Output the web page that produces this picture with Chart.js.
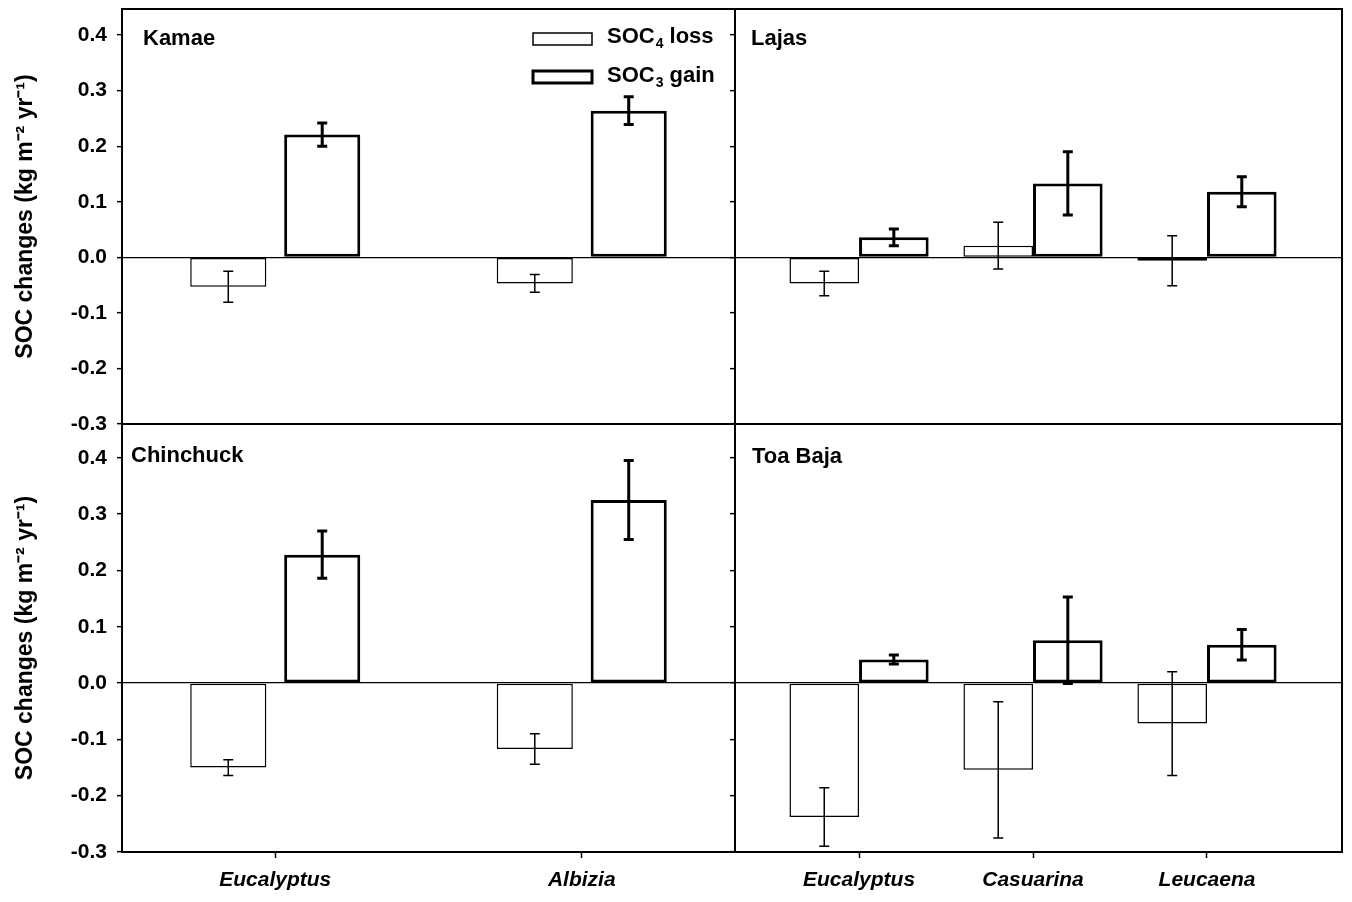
<!DOCTYPE html>
<html>
<head>
<meta charset="utf-8">
<script src="https://cdn.jsdelivr.net/npm/chart.js@4.4.1/dist/chart.umd.min.js"></script>
<style>
  html, body { margin: 0; padding: 0; background: #fff; }
  #wrap { position: relative; width: 1352px; height: 902px; overflow: hidden; }
  #wrap canvas { position: absolute; }
</style>
</head>
<body>
<div id="wrap">
  <canvas id="kamae" width="740" height="430" style="left:0;top:0"></canvas>
  <canvas id="lajas" width="627" height="430" style="left:725px;top:0"></canvas>
  <canvas id="chinchuck" width="740" height="487" style="left:0;top:415px"></canvas>
  <canvas id="toabaja" width="627" height="487" style="left:725px;top:415px"></canvas>
</div>
<script>
const FONT = '"Liberation Sans", Arial, Helvetica, sans-serif';
Chart.defaults.font.family = FONT;
Chart.defaults.color = '#000';

// species on the x axis
const leftSpecies = ['Eucalyptus', 'Albizia'];
const rightSpecies = ['Eucalyptus', 'Casuarina', 'Leucaena'];
const yTickValues = [-0.3, -0.2, -0.1, 0, 0.1, 0.2, 0.3, 0.4];
const yTitle = 'SOC changes (kg m\u207B\u00B2 yr\u207B\u00B9)';

// Kamae
const kamaeLoss = [-0.053, -0.047];
const kamaeLossSe = [0.028, 0.016];
const kamaeGain = [0.221, 0.264];
const kamaeGainSe = [0.021, 0.025];

// Lajas
const lajasLoss = [-0.047, 0.021, -0.006];
const lajasLossSe = [0.022, 0.042, 0.045];
const lajasGain = [0.036, 0.133, 0.118];
const lajasGainSe = [0.015, 0.057, 0.027];

// Chinchuck
const chinLoss = [-0.150, -0.117];
const chinLossSe = [0.014, 0.027];
const chinGain = [0.228, 0.325];
const chinGainSe = [0.042, 0.070];

// Toa Baja
const toaLoss = [-0.238, -0.154, -0.072];
const toaLossSe = [0.052, 0.121, 0.092];
const toaGain = [0.042, 0.076, 0.068];
const toaGainSe = [0.008, 0.077, 0.027];

// legend entries: SOC<sub> + rest
const legendItems = [
    { sub: '4', rest: ' loss', lw: 1.5, boxTop: 33, baseline: 43 },
    { sub: '3', rest: ' gain', lw: 3, boxTop: 71, baseline: 82 },
];

function drawLegend(ctx) {
    legendItems.forEach((it) => {
        ctx.lineWidth = it.lw;
        ctx.strokeRect(533, it.boxTop, 59, 12);
        let x = 607;
        ctx.font = `bold 22px ${FONT}`;
        ctx.fillText('SOC', x, it.baseline);
        x += ctx.measureText('SOC').width;
        ctx.font = `bold 14px ${FONT}`;
        ctx.fillText(it.sub, x + 1, it.baseline + 5);
        x += ctx.measureText(it.sub).width + 1;
        ctx.font = `bold 22px ${FONT}`;
        ctx.fillText(it.rest, x, it.baseline);
    });
}

function makePanel(id, o) {
    const cats = o.cats;
    const toPts = (arr) => arr.map((y, i) => ({ x: i, y }));
    const errSets = [
        { values: o.loss, err: o.lossSe, lw: 1.5 },
        { values: o.gain, err: o.gainSe, lw: 3 },
    ];

    const errorBars = {
        id: 'errorBars',
        afterDatasetsDraw(chart) {
            const { ctx } = chart;
            const ys = chart.scales.y;
            ctx.save();
            ctx.strokeStyle = '#000';
            errSets.forEach((set, di) => {
                chart.getDatasetMeta(di).data.forEach((bar, i) => {
                    const top = ys.getPixelForValue(set.values[i] + set.err[i]);
                    const bot = ys.getPixelForValue(set.values[i] - set.err[i]);
                    ctx.lineWidth = set.lw;
                    ctx.beginPath();
                    ctx.moveTo(bar.x, top);
                    ctx.lineTo(bar.x, bot);
                    ctx.moveTo(bar.x - 5, top);
                    ctx.lineTo(bar.x + 5, top);
                    ctx.moveTo(bar.x - 5, bot);
                    ctx.lineTo(bar.x + 5, bot);
                    ctx.stroke();
                });
            });
            ctx.restore();
        },
    };

    const decor = {
        id: 'decor',
        afterDraw(chart) {
            const { ctx, chartArea: a } = chart;
            ctx.save();
            ctx.strokeStyle = '#000';
            ctx.fillStyle = '#000';
            ctx.lineWidth = 2;
            ctx.strokeRect(a.left, a.top, a.right - a.left, a.bottom - a.top);
            ctx.font = `bold 22px ${FONT}`;
            ctx.textBaseline = 'alphabetic';
            ctx.fillText(o.name, a.left + o.nameDx, a.top + o.nameDy);
            if (o.legend) drawLegend(ctx);
            ctx.restore();
        },
    };

    return new Chart(document.getElementById(id), {
        type: 'bar',
        data: {
            datasets: [
                {
                    label: 'SOC4 loss',
                    data: toPts(o.loss),
                    backgroundColor: '#fff',
                    borderColor: '#000',
                    borderWidth: 1.5,
                    borderSkipped: false,
                },
                {
                    label: 'SOC3 gain',
                    data: toPts(o.gain),
                    backgroundColor: '#fff',
                    borderColor: '#000',
                    borderWidth: 3,
                    borderSkipped: false,
                },
            ],
        },
        options: {
            responsive: false,
            animation: false,
            devicePixelRatio: 1,
            categoryPercentage: o.catPct,
            barPercentage: o.barPct,
            layout: { padding: o.pad },
            plugins: { legend: { display: false }, tooltip: { enabled: false } },
            scales: {
                x: {
                    type: 'linear',
                    display: o.showX,
                    min: o.xMin,
                    max: o.xMax,
                    offset: false,
                    afterBuildTicks: (s) => {
                        s.ticks = cats.map((_, i) => ({ value: i }));
                    },
                    afterFit: (s) => {
                        if (o.showX) s.height = 40;
                        s.paddingLeft = 0;
                        s.paddingRight = 0;
                    },
                    border: { display: false },
                    grid: {
                        drawOnChartArea: false,
                        offset: false,
                        tickLength: 6,
                        tickColor: '#000',
                        tickWidth: 1.5,
                    },
                    ticks: {
                        autoSkip: false,
                        maxRotation: 0,
                        padding: 10,
                        font: { size: 21, weight: 'bold', style: 'italic' },
                        callback: (v) => cats[v],
                    },
                },
                y: {
                    min: -0.3,
                    max: o.yMax,
                    afterBuildTicks: (s) => {
                        s.ticks = yTickValues.map((v) => ({ value: v }));
                    },
                    afterFit: (s) => {
                        s.width = o.yWidth;
                        s.paddingTop = 0;
                        s.paddingBottom = 0;
                    },
                    border: { display: false },
                    grid: {
                        color: (c) => (c.tick && c.tick.value === 0 ? '#000' : 'rgba(0,0,0,0)'),
                        lineWidth: 1.3,
                        tickColor: '#000',
                        tickLength: 5,
                        tickWidth: 1.5,
                    },
                    ticks: {
                        display: o.showY,
                        padding: 10,
                        font: { size: 21, weight: 'bold' },
                        callback: (v) => v.toFixed(1),
                    },
                    title: {
                        display: o.showY,
                        text: yTitle,
                        font: { size: 23, weight: 'bold' },
                        padding: { top: 12, bottom: 0 },
                    },
                },
            },
        },
        plugins: [errorBars, decor],
    });
}

const leftBars = { catPct: 0.613, barPct: 0.81, xMin: -0.5, xMax: 1.5, yWidth: 122, showY: true };
const rightBars = { catPct: 0.8, barPct: 1.0, xMin: -0.713, xMax: 2.776, yWidth: 10, showY: false };

makePanel('kamae', {
    ...leftBars, cats: leftSpecies, name: 'Kamae', nameDx: 21, nameDy: 36, legend: true,
    loss: kamaeLoss, lossSe: kamaeLossSe, gain: kamaeGain, gainSe: kamaeGainSe,
    yMax: 0.447, showX: false, pad: { top: 9, right: 5, bottom: 6, left: 0 },
});
makePanel('lajas', {
    ...rightBars, cats: rightSpecies, name: 'Lajas', nameDx: 16, nameDy: 36,
    loss: lajasLoss, lossSe: lajasLossSe, gain: lajasGain, gainSe: lajasGainSe,
    yMax: 0.447, showX: false, pad: { top: 9, right: 10, bottom: 6, left: 0 },
});
makePanel('chinchuck', {
    ...leftBars, cats: leftSpecies, name: 'Chinchuck', nameDx: 9, nameDy: 38,
    loss: chinLoss, lossSe: chinLossSe, gain: chinGain, gainSe: chinGainSe,
    yMax: 0.46, showX: true, pad: { top: 9, right: 5, bottom: 10, left: 0 },
});
makePanel('toabaja', {
    ...rightBars, cats: rightSpecies, name: 'Toa Baja', nameDx: 17, nameDy: 39,
    loss: toaLoss, lossSe: toaLossSe, gain: toaGain, gainSe: toaGainSe,
    yMax: 0.46, showX: true, pad: { top: 9, right: 10, bottom: 10, left: 0 },
});
</script>
</body>
</html>
